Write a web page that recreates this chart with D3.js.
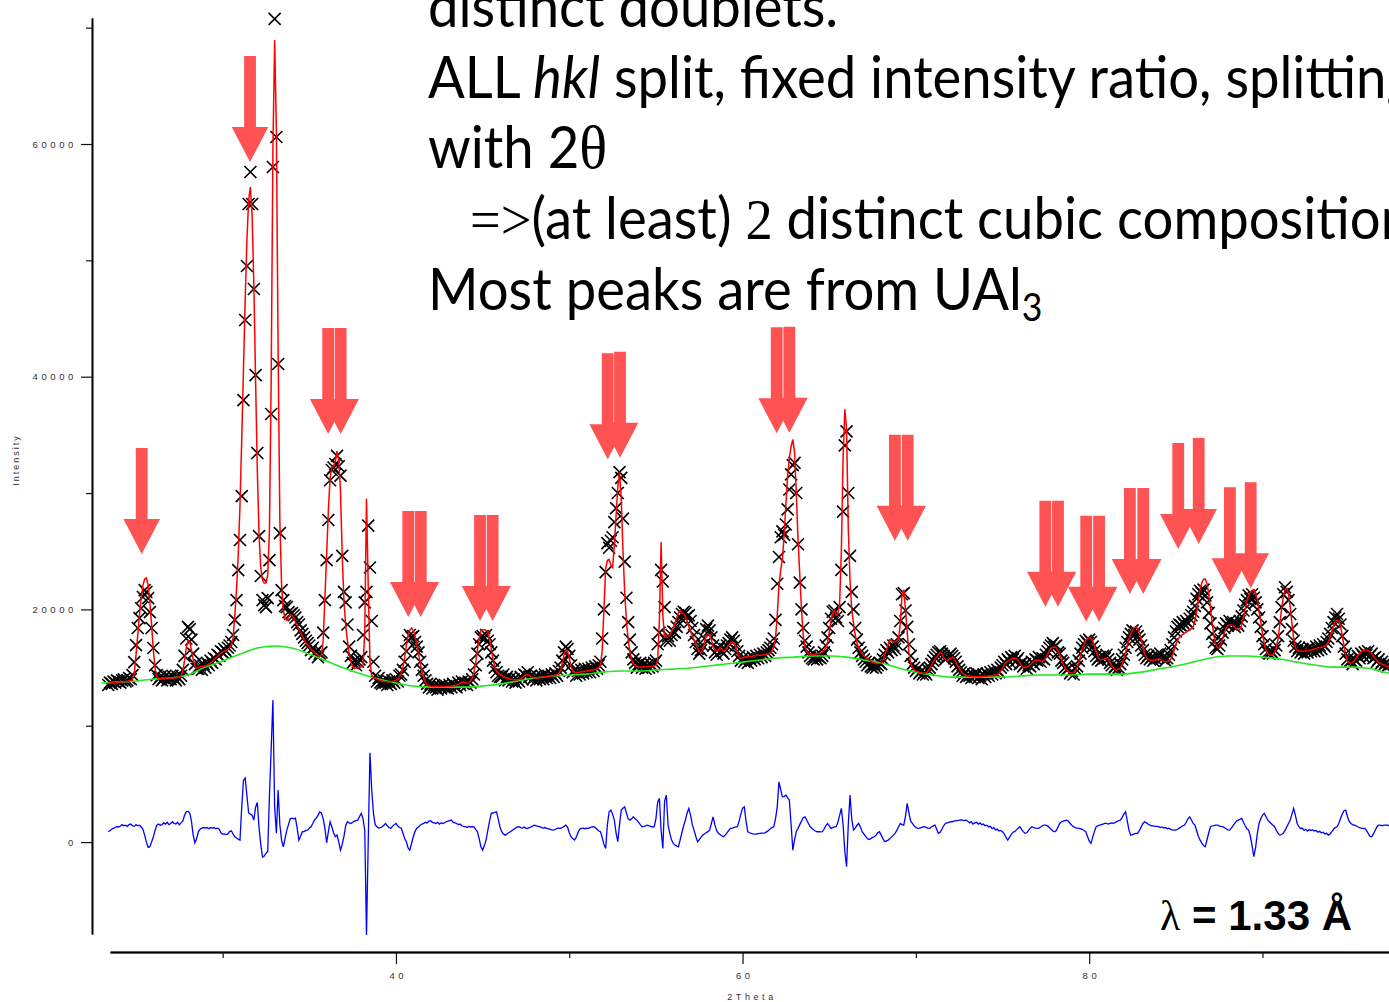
<!DOCTYPE html>
<html>
<head>
<meta charset="utf-8">
<script src="https://cdn.jsdelivr.net/npm/d3@7"></script>
<style>
  body { margin: 0; background: #fff; }
  svg { display: block; }
  text { white-space: pre; }
</style>
</head>
<body>
<div id="chart"></div>
<script>
// 2theta grid of the scan
const thetaStart = 23.4, thetaStep = 0.1;

const observed = [
  13500, 13700, 13600, 13800, 13700, 13900,
  13800, 13700, 13900, 14000, 13800, 13900, 14100, 14000, 14350, 15470,
  16930, 18400, 19250, 20100, 21060, 21660, 21490, 20970, 19770, 18400,
  16680, 15200, 14350, 14000, 14200, 13900, 14100, 14300, 13900, 14200,
  14000, 14300, 14100, 13900, 14200, 14000, 14300, 14800, 16000, 17500,
  18500, 18300, 17400, 16200, 15300, 14900, 14900, 15200, 14800, 15300,
  15000, 15400, 15200, 15600, 15400, 15800, 15700, 16100, 16000, 16400,
  16300, 16600, 16400, 16700, 16900, 17200, 17800, 19100, 20800, 23380,
  25960, 29740, 37990, 44870, 49510, 54840, 57590, 54840, 47540, 40140,
  33440, 26300, 22870, 20800, 20370, 20200, 20970, 24240, 36790, 58020,
  70750, 60600, 41090, 26560, 21660, 20800, 20290, 20200, 19770, 19600,
  19680, 19500, 19300, 18900, 18700, 18200, 17900, 17600, 17300, 17100,
  16900, 16500, 16700, 16200, 16400, 15900, 16200, 16300, 18000, 20800,
  24240, 27680, 31100, 31980, 32200, 32500, 33200, 32300, 31500, 24600,
  21500, 20600, 18700, 16800, 16000, 15400, 15600, 15200, 15500, 15700,
  15900, 17800, 20600, 21500, 27200, 23600, 19000, 15500, 14300, 13800,
  14100, 13700, 13600, 13900, 13700, 13500, 13800, 13600, 13900, 13700,
  14000, 13800, 14300, 14400, 14800, 15500, 16400, 17300, 17800, 17600,
  17700, 17200, 16800, 16300, 15500, 14800, 14300, 13900, 13600, 13300,
  13600, 13200, 13500, 13300, 13100, 13400, 13200, 13500, 13300, 13400,
  13200, 13500, 13300, 13600, 13400, 13300, 13700, 13500, 13800, 13600,
  13700, 13500, 13800, 13700, 14000, 14400, 15200, 16200, 17000, 17600,
  17700, 17500, 17800, 17300, 17000, 16300, 15600, 15000, 14600, 14300,
  14200, 14200, 14400, 13900, 14200, 13900, 14100, 13800, 14000, 13700,
  14000, 13800, 14200, 14000, 14400, 14300, 14600, 14200, 14300, 14000,
  14200, 13900, 14200, 14000, 14300, 14000, 14400, 14100, 14300, 14100,
  14400, 14200, 14500, 14300, 14700, 15000, 15600, 16300, 16800, 16600,
  16000, 15200, 14600, 14800, 14300, 14700, 14400, 14800, 14500, 14900,
  14600, 14900, 14600, 15000, 14700, 15100, 14900, 15200, 15500, 17500,
  20000, 23200, 25700, 25300, 25900, 26200, 27500, 28700, 30000, 31800,
  31300, 27800, 24100, 21000, 18900, 17400, 16300, 15700, 15400, 15000,
  15300, 15400, 15000, 15300, 14900, 15200, 15000, 15300, 15100, 15400,
  15600, 17000, 18000, 23400, 22400, 20200, 17300, 17700, 17300, 17800,
  18100, 18000, 18500, 18900, 19300, 19600, 19800, 19700, 19400, 19500,
  19000, 18400, 17800, 17200, 16600, 16200, 16500, 16900, 17500, 18300,
  18600, 18200, 17600, 16900, 16300, 16100, 16600, 16900, 16400, 16200,
  16600, 16900, 17100, 17400, 17600, 17300, 16900, 16400, 16000, 15600,
  15800, 15500, 15700, 15400, 15800, 15600, 15900, 15700, 16000, 15800,
  16100, 15900, 16200, 16000, 16300, 16500, 16700, 17000, 17500, 19100,
  22200, 24500, 26200, 26700, 26400, 27300, 28600, 30300, 31600, 32400,
  32600, 30000, 25600, 22300, 20000, 18400, 17300, 16800, 16300, 16000,
  15800, 15700, 16000, 15700, 15900, 15800, 16000, 16300, 16900, 17600,
  18400, 19200, 19800, 19900, 19300, 19000, 20200, 23400, 28400, 34100,
  35300, 30000, 24600, 21500, 20000, 18400, 17400, 16700, 16300, 16000,
  15700, 15500, 15200, 15400, 15100, 15000, 15300, 15000, 15200, 15400,
  15300, 15700, 16100, 16500, 16300, 16700, 16500, 16900, 16600, 17000,
  17600, 19000, 21300, 21400, 19900, 18500, 17000, 16000, 15300, 15000,
  14700, 14900, 14500, 14700, 14400, 14600, 14400, 14800, 15000, 15300,
  15600, 15900, 16100, 16300, 16400, 16200, 16000, 15700, 15900, 16000,
  16200, 16000, 15800, 15500, 15100, 14800, 14600, 14300, 14500, 14200,
  14400, 14300, 14100, 14400, 14200, 14500, 14100, 14300, 14000, 14400,
  14200, 14500, 14300, 14600, 14400, 14700, 14500, 14800, 14600, 15000,
  15200, 15500, 15300, 15700, 15500, 15900, 15700, 16000, 15600, 15800,
  15300, 15400, 15100, 15300, 14900, 15200, 15100, 15500, 15300, 15700,
  15600, 15900, 15500, 15800, 15700, 16100, 16400, 16700, 16900, 17100,
  16800, 16900, 16300, 16200, 15600, 15400, 15000, 14800, 14900, 14500,
  14700, 14400, 14900, 15100, 15600, 16200, 16700, 17000, 17300, 17100,
  17400, 17200, 16800, 16400, 16000, 15700, 15900, 15600, 16000, 15800,
  16100, 15700, 15400, 15200, 14900, 15100, 14800, 15000, 15300, 15700,
  16100, 16700, 17200, 17600, 17900, 18200, 17800, 18100, 17700, 17400,
  16900, 16500, 16100, 15800, 16000, 15700, 15900, 15600, 15800, 16100,
  15900, 16200, 15800, 15900, 15600, 15800, 16100, 16500, 17000, 17600,
  18100, 18500, 18700, 18600, 18900, 18700, 19000, 18800, 19200, 19500,
  19800, 20300, 20900, 21300, 21600, 21400, 21700, 21200, 20600, 19700,
  18800, 17900, 17200, 16700, 16600, 16900, 17400, 18000, 18400, 18800,
  18600, 19000, 18700, 18900, 18500, 18800, 18600, 19000, 19400, 19900,
  20400, 20800, 21200, 20900, 21300, 21000, 20600, 20000, 19300, 18500,
  17700, 17000, 16600, 16300, 16200, 16400, 16200, 16500, 16900, 17700,
  18900, 20200, 21300, 21900, 21500, 20800, 19600, 18300, 17300, 16800,
  16400, 16700, 16300, 16600, 16200, 16500, 16300, 16700, 16400, 16600,
  16400, 16800, 16500, 16900, 16600, 17000, 16800, 17200, 17500, 17900,
  18400, 18900, 19300, 19600, 19200, 18700, 17700, 16800, 16200, 15700,
  15500, 15600, 15300, 15700, 15600, 16000, 15800, 16200, 16000, 16300,
  16100, 16400, 16000, 16200, 15800, 15900, 15500, 15700, 15300, 15500,
  15200, 15400, 15100, 15300
];

const calculated = [
  13650, 13680, 13700, 13700, 13720, 13720,
  13740, 13750, 13760, 13780, 13800, 13820, 13850, 13880, 13950, 14500,
  16070, 17790, 19510, 20970, 22090, 22610, 22700, 22090, 20630, 18650,
  16500, 14960, 14180, 14050, 14050, 14050, 14080, 14080, 14100, 14100,
  14100, 14100, 14100, 14120, 14150, 14180, 14300, 14700, 15600, 16700,
  17300, 17200, 16500, 15700, 15150, 14950, 15000, 15050, 15100, 15100,
  15150, 15200, 15300, 15400, 15500, 15650, 15800, 15950, 16100, 16250,
  16350, 16400, 16450, 16550, 16700, 17000, 17500, 19510, 21660, 24670,
  28970, 34560, 40570, 46590, 51750, 55190, 56300, 53890, 47880, 39710,
  31980, 26390, 23550, 22520, 22260, 22260, 22950, 26820, 39710, 59480,
  68940, 61200, 42290, 27680, 22090, 19940, 19250, 19080, 19340, 19510,
  19500, 19300, 18900, 18600, 18300, 18000, 17700, 17400, 17150, 16950,
  16750, 16600, 16450, 16300, 16150, 16050, 15950, 16100, 17300, 21000,
  24700, 28500, 31300, 32200, 32300, 32700, 33600, 32800, 30200, 24600,
  20700, 18600, 17300, 16200, 15500, 15100, 14950, 14950, 15000, 15000,
  15050, 15200, 18000, 29500, 22000, 15500, 14300, 14150, 14100, 14000,
  13950, 13900, 13850, 13800, 13800, 13780, 13780, 13800, 13820, 13850,
  13900, 14000, 14200, 14500, 15000, 15800, 16900, 17800, 18200, 18400,
  18200, 17700, 17000, 16200, 15400, 14700, 14100, 13700, 13500, 13450,
  13400, 13380, 13380, 13380, 13380, 13380, 13380, 13380, 13380, 13400,
  13400, 13400, 13420, 13420, 13450, 13500, 13550, 13650, 13750, 13780,
  13700, 13650, 13700, 13850, 14100, 14600, 15400, 16500, 17500, 18100,
  18250, 18250, 18200, 18100, 17500, 16600, 15700, 15100, 14700, 14500,
  14400, 14350, 14250, 14150, 14100, 14050, 14000, 13980, 13960, 13950,
  13950, 13980, 14050, 14150, 14300, 14400, 14400, 14300, 14200, 14150,
  14100, 14100, 14100, 14150, 14150, 14200, 14200, 14200, 14250, 14250,
  14300, 14300, 14350, 14400, 14500, 14800, 15400, 16100, 16500, 16400,
  15800, 15100, 14700, 14550, 14550, 14600, 14600, 14650, 14650, 14700,
  14700, 14750, 14750, 14800, 14800, 14850, 14900, 15000, 15200, 16500,
  20000, 23500, 24200, 24300, 23800, 23600, 25500, 28000, 30500, 31800,
  29500, 25000, 21400, 19000, 17400, 16300, 15700, 15350, 15200, 15100,
  15050, 15050, 15050, 15050, 15050, 15100, 15100, 15100, 15100, 15150,
  15200, 15600, 19000, 25800, 19500, 17600, 17600, 17650, 17800, 18100,
  18400, 18800, 19300, 19700, 19900, 19700, 19600, 19400, 19000, 18500,
  18100, 17700, 17400, 17000, 16700, 16400, 16300, 16500, 17200, 17700,
  17900, 17800, 17400, 16800, 16500, 16400, 16500, 16700, 16600, 16400,
  16500, 16700, 16950, 17100, 17200, 17100, 16800, 16300, 15900, 15800,
  15850, 15900, 15900, 15900, 15950, 15950, 16000, 16000, 16050, 16050,
  16050, 16050, 16100, 16100, 16150, 16200, 16250, 16400, 16800, 17500,
  19500, 22000, 23400, 24300, 26500, 29000, 31500, 33000, 34000, 34600,
  33500, 30000, 26000, 23000, 20000, 17800, 16800, 16400, 16200, 16150,
  16100, 16100, 16150, 16200, 16200, 16250, 16350, 16500, 16700, 17200,
  18000, 19000, 19700, 19900, 19500, 19600, 20500, 25000, 33000, 37200,
  35500, 27000, 22500, 20000, 18800, 17800, 17100, 16700, 16400, 16200,
  16000, 15900, 15800, 15650, 15550, 15450, 15400, 15350, 15350, 15350,
  15400, 15600, 16100, 16500, 17000, 17400, 17300, 17200, 17200, 17300,
  17500, 18800, 21200, 21700, 20000, 18000, 16300, 15400, 15000, 14800,
  14700, 14650, 14600, 14550, 14500, 14500, 14550, 14700, 14900, 15200,
  15500, 15700, 15900, 16100, 16300, 16200, 15900, 15700, 15600, 15700,
  15800, 15900, 15800, 15500, 15200, 14900, 14700, 14500, 14400, 14300,
  14250, 14250, 14250, 14200, 14200, 14200, 14200, 14200, 14200, 14250,
  14250, 14250, 14300, 14300, 14300, 14350, 14350, 14400, 14500, 14700,
  14950, 15200, 15400, 15550, 15650, 15750, 15800, 15820, 15750, 15600,
  15400, 15200, 15050, 15000, 15020, 15100, 15250, 15400, 15550, 15630,
  15650, 15620, 15560, 15550, 15650, 15850, 16150, 16450, 16650, 16750,
  16760, 16700, 16450, 16100, 15700, 15300, 15000, 14800, 14650, 14550,
  14530, 14550, 14700, 15000, 15450, 16000, 16550, 17000, 17300, 17500,
  17550, 17540, 17300, 16900, 16400, 15950, 15700, 15650, 15700, 15780,
  15820, 15700, 15450, 15150, 14950, 14820, 14790, 14850, 15000, 15300,
  15750, 16300, 16900, 17450, 17900, 18250, 18450, 18480, 18350, 18000,
  17450, 16800, 16200, 15850, 15700, 15650, 15600, 15600, 15650, 15700,
  15750, 15700, 15620, 15550, 15500, 15500, 15550, 15700, 16000, 16500,
  17000, 17350, 17600, 17750, 17850, 17950, 18050, 18150, 18250, 18350,
  18500, 19000, 19800, 20800, 21700, 22300, 22600, 22610, 22200, 21300,
  20100, 18800, 17700, 17000, 16700, 16700, 17000, 17500, 18000, 18400,
  18600, 18650, 18650, 18600, 18450, 18300, 18250, 18300, 18700, 19300,
  20000, 20700, 21200, 21500, 21650, 21660, 21400, 20800, 19900, 18900,
  17900, 17100, 16500, 16200, 16070, 16050, 16100, 16300, 16700, 17500,
  18700, 20000, 21100, 21700, 21800, 21300, 20200, 18800, 17500, 16700,
  16500, 16450, 16400, 16400, 16400, 16450, 16450, 16500, 16500, 16550,
  16600, 16650, 16700, 16700, 16750, 16800, 16850, 16950, 17200, 17600,
  18100, 18600, 18950, 19080, 19050, 18600, 17800, 16900, 16100, 15600,
  15400, 15380, 15450, 15600, 15800, 16000, 16200, 16350, 16450, 16500,
  16500, 16450, 16350, 16200, 16000, 15800, 15600, 15450, 15350, 15300,
  15250, 15150, 15100, 15050
];

const difference = [
  900, 970, 1100, 1200, 1250, 1320,
  1300, 1380, 1500, 1400, 1450, 1350, 1500, 1550, 1400, 1350,
  1500, 1400, 1450, 1300, 1100, 600, 0, -450, -400, 0,
  430, 1000, 1450, 1550, 1450, 1500, 1650, 1550, 1700, 1500,
  1600, 1750, 1600, 1550, 1700, 1500, 1650, 1800, 2300, 2600,
  2650, 2500, 1800, 600, -60, 300, 900, 1100, 1200, 1250,
  1200, 1250, 1150, 1250, 1200, 1250, 1150, 1200, 1100, 800,
  690, 700, 650, 700, 900, 970, 700, 450, 350, 250,
  170, 3000, 5300, 5500, 4000, 2500, 2400, 2320, 1890, 3000,
  3400, 1200, -200, -1300, -1200, -950, -830, 4000, 8000, 12200,
  3000, 770, 4470, 1500, 170, -400, 300, 1030, 1500, 2000,
  2060, 2000, 2060, 1200, 170, 500, 890, 900, 1000, 1030,
  1200, 1320, 1600, 1900, 2060, 2300, 2600, 2500, 2000, 1200,
  -60, 900, 1750, 1320, 800, 460, 600, 0, -690, -200,
  500, 1400, 1750, 1650, 1600, 1700, 1800, 1850, 1890, 2200,
  2470, 2000, 1000, -7990, 0, 7680, 4500, 2500, 1500, 1320,
  1200, 1250, 1320, 1450, 1600, 1400, 1250, 1180, 1350, 1500,
  1600, 1400, 1250, 1200, 800, 300, 30, -500, -690, -100,
  460, 900, 1200, 1300, 1450, 1550, 1600, 1700, 1650, 1800,
  1830, 1700, 1650, 1600, 1700, 1550, 1650, 1600, 1660, 1750,
  1800, 1850, 1890, 1700, 1650, 1600, 1500, 1550, 1400, 1350,
  1320, 1250, 1350, 1300, 1320, 1300, 1100, 890, 300, -400,
  -690, -300, 170, 1000, 1800, 2470, 2500, 2550, 2600, 2000,
  1320, 900, 700, 600, 700, 800, 890, 1000, 1100, 1200,
  1300, 1320, 1250, 1200, 1300, 1180, 1180, 1250, 1300, 1400,
  1460, 1400, 1350, 1320, 1250, 1200, 1250, 1180, 1150, 1100,
  1050, 1030, 1100, 1180, 1200, 1180, 1250, 1350, 1460, 1300,
  800, 460, 300, 170, 400, 800, 1100, 1180, 1200, 1150,
  1200, 1180, 1250, 1300, 1320, 1250, 1100, 950, 890, 400,
  -200, -540, 1500, 2600, 2750, 2400, 1890, 800, 30, 1500,
  2750, 2900, 3030, 2500, 2000, 1890, 2000, 2170, 2000, 1890,
  1700, 1500, 1320, 1350, 1400, 1460, 1400, 1350, 1300, 1320,
  2000, 3400, 3760, 1000, -540, 3500, 4040, 1500, 750, 200,
  -110, -250, -350, -400, 200, 800, 1400, 1890, 2500, 2900,
  2300, 1500, 1030, 500, 30, 200, 400, 600, 700, 800,
  900, 1030, 1600, 2170, 1500, 1000, 750, 650, 550, 460,
  600, 800, 1000, 1180, 1200, 1250, 1300, 1320, 1800, 2400,
  2900, 3030, 1800, 890, 800, 750, 700, 690, 690, 720,
  750, 770, 770, 800, 900, 1000, 1150, 1250, 1320, 2000,
  3030, 5180, 4500, 3890, 3900, 4040, 3800, 3610, 1500, -690,
  200, 900, 1180, 1500, 1800, 2100, 2170, 1900, 1600, 1320,
  1200, 1050, 950, 890, 900, 880, 890, 1100, 1400, 1600,
  1400, 1180, 1250, 1300, 1320, 1700, 2300, 2900, 1500, -800,
  -2120, 1500, 4040, 2000, 1030, 1200, 1450, 1600, 1300, 890,
  700, 500, 300, 230, 300, 400, 460, 600, 800, 890,
  600, 300, 30, 100, 170, 300, 450, 600, 750, 1000,
  1300, 1600, 1500, 1460, 2200, 3330, 2500, 1800, 1600, 1400,
  1250, 1180, 1200, 1250, 1300, 1320, 1250, 1200, 1180, 1300,
  1400, 1460, 1100, 750, 850, 1100, 1400, 1600, 1650, 1700,
  1750, 1750, 1800, 1850, 1850, 1890, 1900, 1890, 1850, 1890,
  1800, 1650, 1750, 1550, 1650, 1700, 1550, 1650, 1500, 1550,
  1400, 1450, 1300, 1350, 1150, 1250, 1050, 1100, 950, 1000,
  890, 700, 400, 170, 400, 650, 850, 890, 1050, 1200,
  1320, 1100, 900, 750, 800, 1000, 1200, 1320, 1250, 1200,
  1180, 1200, 1300, 1400, 1450, 1460, 1400, 1250, 1100, 950,
  890, 1000, 1300, 1600, 1750, 1800, 1850, 1890, 1800, 1600,
  1450, 1320, 1250, 1200, 1180, 1150, 1100, 1000, 890, 500,
  100, -110, 400, 900, 1320, 1400, 1450, 1500, 1550, 1600,
  1600, 1550, 1600, 1650, 1600, 1700, 1750, 1850, 1890, 2100,
  2400, 2600, 1800, 1000, 600, 650, 700, 750, 750, 1000,
  1300, 1600, 1750, 1650, 1550, 1460, 1400, 1400, 1350, 1350,
  1320, 1250, 1300, 1200, 1250, 1150, 1200, 1100, 1050, 1030,
  1030, 1100, 1200, 1300, 1400, 1460, 1700, 2000, 2170, 1900,
  1600, 1460, 1000, 500, 170, -100, -300, -400, 200, 800,
  1320, 1400, 1420, 1450, 1460, 1400, 1350, 1320, 1250, 1150,
  1050, 1030, 1200, 1400, 1600, 1800, 1890, 1950, 2040, 1700,
  1400, 1150, 1030, 500, -300, -1260, -500, 700, 1600, 2000,
  2300, 2470, 2200, 1900, 1750, 1600, 1450, 1320, 1000, 750,
  600, 650, 750, 1000, 1300, 1600, 1890, 2400, 2900, 2300,
  1600, 1320, 1150, 1200, 1000, 1100, 950, 1080, 1000, 1050,
  950, 1000, 850, 920, 800, 850, 700, 750, 600, 700,
  900, 1100, 1250, 1320, 1600, 2000, 2400, 2700, 2750, 2200,
  1800, 1600, 1500, 1450, 1400, 1320, 1250, 1200, 1180, 1180,
  1000, 750, 500, 460, 700, 1000, 1300, 1460, 1450, 1400,
  1450, 1460, 1460, 1400
];

// background curve, read at whole degrees
const bgTheta = d3.range(23, 99);
const background = [
  13670, 13750, 13840, 14010, 14100, 14360, 15040, 15560, 16160, 16680,
  16850, 16680, 16160, 15560, 14960, 14440, 14010, 13670, 13410, 13320,
  13320, 13320, 13410, 13580, 13840, 14100, 14270, 14360, 14440, 14610,
  14700, 14700, 14790, 14870, 14960, 15130, 15300, 15470, 15650, 15820,
  15900, 15990, 15990, 15900, 15650, 15390, 14960, 14610, 14360, 14180,
  14180, 14180, 14180, 14270, 14360, 14360, 14360, 14440, 14440, 14440,
  14610, 14870, 15130, 15470, 15820, 15990, 15990, 15900, 15730, 15470,
  15220, 15040, 15040, 14960, 14610, 14270
];

// red arrows: 2theta of each arrow and intensity at its tip
const arrowTheta = [25.33, 31.58, 36.09, 36.81, 40.71, 41.43, 44.85, 45.58, 52.22, 52.93, 61.97, 62.70,
                    68.79, 69.53, 77.47, 78.20, 79.83, 80.57, 82.35, 83.12, 85.14, 86.32, 88.12, 89.32];
const arrowTip = [24760, 58450, 35070, 35070, 19340, 19340, 19000, 19000, 32900, 33030, 35130, 35180,
                  25900, 25900, 20230, 20230, 18940, 18940, 21320, 21320, 25190, 25620, 21380, 21810];

const yMajorTicks = [0, 20000, 40000, 60000];
const yMinorTicks = [10000, 30000, 50000, 70000];
const xMajorTicks = [40, 60, 80];
const xMinorTicks = [30, 50, 70, 90];

document.addEventListener("DOMContentLoaded", function () {
    const width = 1389, height = 1002;
    const svg = d3.select("#chart").append("svg")
        .attr("width", width)
        .attr("height", height);

    const x = d3.scaleLinear().domain([23.5, 97.3]).range([110, 1389]);
    const y = d3.scaleLinear().domain([-7900, 70830]).range([934, 18]);

    const theta = observed.map((d, i) => thetaStart + i * thetaStep);

    // axes
    const tickFont = "'Liberation Sans', Arial, sans-serif";
    svg.append("g").attr("transform", "translate(92,0)")
        .call(d3.axisLeft(y).tickValues(yMajorTicks).tickSize(11).tickSizeOuter(0)
            .tickPadding(4).tickFormat(d3.format("d")));
    svg.append("g").attr("transform", "translate(92,0)")
        .call(d3.axisLeft(y).tickValues(yMinorTicks).tickSize(6).tickSizeOuter(0).tickFormat(""));

    const xAxis = svg.append("g").attr("transform", "translate(0,952)")
        .call(d3.axisBottom(x).tickValues(xMajorTicks).tickSize(12).tickSizeOuter(0).tickPadding(8));
    svg.append("g").attr("transform", "translate(0,952)")
        .call(d3.axisBottom(x).tickValues(xMinorTicks).tickSize(6).tickSizeOuter(0).tickFormat(""));

    svg.selectAll(".domain").attr("stroke", "#000").attr("stroke-width", 1.6);
    xAxis.select(".domain").attr("stroke-width", 2.2);
    svg.selectAll(".tick line").attr("stroke", "#111").attr("stroke-width", 1.2);
    svg.selectAll(".tick text")
        .attr("font-family", tickFont)
        .attr("font-size", 9.5)
        .attr("letter-spacing", "3.6px")
        .attr("fill", "#333");
    xAxis.selectAll(".tick text").attr("dx", "1.8px");

    svg.append("text")
        .attr("transform", "translate(19,460) rotate(-90)")
        .attr("text-anchor", "middle")
        .attr("font-family", tickFont)
        .attr("font-size", 9)
        .attr("letter-spacing", "2px")
        .attr("fill", "#333")
        .text("Intensity");

    svg.append("text")
        .attr("x", 752).attr("y", 1000)
        .attr("text-anchor", "middle")
        .attr("font-family", tickFont)
        .attr("font-size", 9)
        .attr("letter-spacing", "3.6px")
        .attr("fill", "#333")
        .text("2Theta");

    // observed points as crosses
    const s = 6;
    svg.append("g")
        .selectAll("path")
        .data(observed)
        .enter().append("path")
            .attr("transform", (d, i) => `translate(${x(theta[i])},${y(d)})`)
            .attr("d", `M${-s},${-s}L${s},${s}M${-s},${s}L${s},${-s}`)
            .attr("stroke", "#000")
            .attr("stroke-width", 1.6)
            .attr("fill", "none");

    // background
    svg.append("path")
        .datum(background)
        .attr("fill", "none")
        .attr("stroke", "#22e822")
        .attr("stroke-width", 1.6)
        .attr("d", d3.line().curve(d3.curveMonotoneX)
            .x((d, i) => x(bgTheta[i])).y(d => y(d)));

    // calculated profile
    svg.append("path")
        .datum(calculated)
        .attr("fill", "none")
        .attr("stroke", "#ff0000")
        .attr("stroke-width", 1.5)
        .attr("d", d3.line().x((d, i) => x(theta[i])).y(d => y(d)));

    // difference curve
    svg.append("path")
        .datum(difference)
        .attr("fill", "none")
        .attr("stroke", "#0000ff")
        .attr("stroke-width", 1.3)
        .attr("d", d3.line().x((d, i) => x(theta[i])).y(d => y(d)));

    // arrows
    const arrowLen = 106, headLen = 35, headHalf = 18.3, shaftHalf = 5.9;
    svg.append("g")
        .selectAll("path")
        .data(arrowTheta)
        .enter().append("path")
            .attr("fill", "#ff5252")
            .attr("d", (d, i) => {
                const tx = x(d), ty = y(arrowTip[i]);
                const top = ty - arrowLen, neck = ty - headLen;
                return `M${tx - shaftHalf},${top}L${tx + shaftHalf},${top}L${tx + shaftHalf},${neck}` +
                       `L${tx + headHalf},${neck}L${tx},${ty}L${tx - headHalf},${neck}L${tx - shaftHalf},${neck}Z`;
            });

    // slide text
    const noteFont = "Lato, 'Open Sans', sans-serif";
    const serif = "'Liberation Serif', 'DejaVu Serif', serif";
    const note = svg.append("g")
        .attr("font-family", noteFont)
        .attr("font-size", 58)
        .attr("fill", "#000");
    const probe = note.append("text").text("Most peaks are from UAl");
    const sx = 594 / probe.node().getComputedTextLength();
    probe.remove();
    note.attr("transform", `translate(428,0) scale(${sx},1)`);

    note.append("text").attr("y", 27).text("distinct doublets.");

    const l2 = note.append("text").attr("y", 98);
    l2.append("tspan").text("ALL ");
    l2.append("tspan").attr("font-style", "italic").text("hkl");
    l2.append("tspan").text(" split, fixed intensity ratio, splitting");

    const l3 = note.append("text").attr("y", 168);
    l3.append("tspan").text("with 2");
    l3.append("tspan").attr("font-family", serif).attr("font-size", 62).text("θ");

    const l4 = note.append("text").attr("x", 42 / sx).attr("y", 239);
    l4.append("tspan").attr("font-family", serif).text("=>");
    l4.append("tspan").text("(at least) ");
    l4.append("tspan").attr("font-family", serif).text("2");
    l4.append("tspan").text(" distinct cubic compositions");

    const l5 = note.append("text").attr("y", 310);
    l5.append("tspan").text("Most peaks are from UAl");
    l5.append("tspan").attr("font-size", 38).attr("dy", 11).text("3");

    const lam = svg.append("text")
        .attr("x", 1352).attr("y", 930)
        .attr("text-anchor", "end")
        .attr("font-family", "'Liberation Sans', Arial, sans-serif")
        .attr("font-weight", "bold")
        .attr("font-size", 42)
        .attr("fill", "#000");
    lam.append("tspan").attr("font-family", serif).attr("font-weight", "normal").text("λ");
    lam.append("tspan").text(" = 1.33 Å");
});
</script>
</body>
</html>
